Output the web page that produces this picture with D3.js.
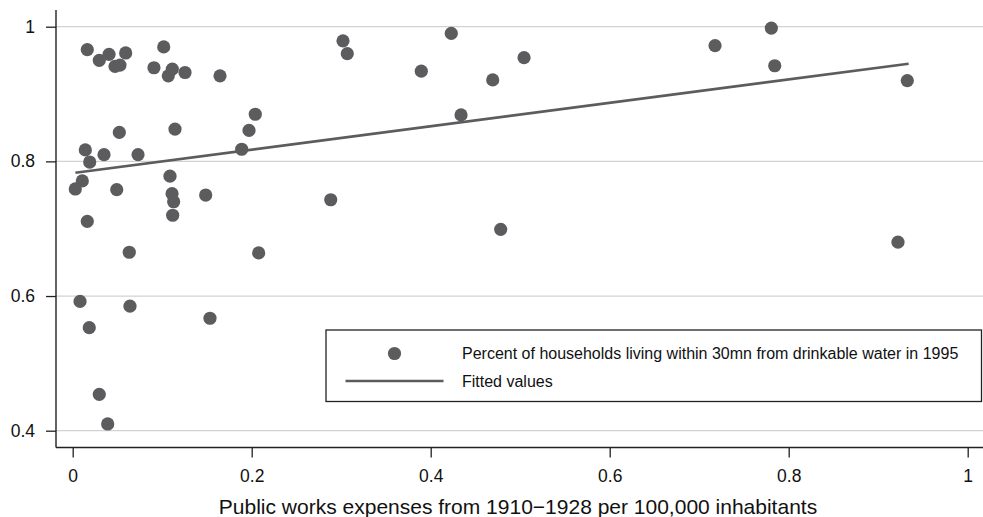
<!DOCTYPE html>
<html>
<head>
<meta charset="utf-8">
<script src="https://cdn.jsdelivr.net/npm/d3@7"></script>
<style>
  html, body { margin: 0; padding: 0; background: #fff; }
  svg { display: block; font-family: "Liberation Sans", Arial, Helvetica, sans-serif; }
</style>
</head>
<body>
<svg id="chart" width="983" height="517"></svg>
<script>
// Public works expenses (x) vs. share of households within 30mn of drinkable water (y)
const xValues = [0.0163,0.0297,0.0406,0.0592,0.0473,0.0528,0.1017,0.0908,0.1113,0.1068,
                 0.1255,0.1646,0.2040,0.1970,0.1888,0.1143,0.0521,0.0141,0.0350,0.0730,
                 0.0190,0.0107,0.0029,0.0492,0.1087,0.1110,0.1128,0.1117,0.1486,0.0163,
                 0.0632,0.2078,0.0082,0.0640,0.0185,0.1534,0.0297,0.0391,0.3020,0.3068,
                 0.4230,0.3895,0.4693,0.5043,0.4339,0.2883,0.4782,0.7177,0.7806,0.7844,
                 0.9325,0.9221];
const yValues = [0.966,0.950,0.959,0.961,0.941,0.943,0.970,0.939,0.937,0.927,
                 0.932,0.927,0.870,0.846,0.818,0.848,0.843,0.817,0.810,0.810,
                 0.799,0.771,0.759,0.758,0.778,0.752,0.740,0.720,0.750,0.711,
                 0.665,0.664,0.592,0.585,0.553,0.567,0.454,0.410,0.979,0.960,
                 0.990,0.934,0.921,0.954,0.869,0.743,0.699,0.972,0.998,0.942,
                 0.920,0.680];
// Fitted values line (endpoints)
const fitX = [0.003, 0.934];
const fitY = [0.783, 0.945];
const xTicks = [0, 0.2, 0.4, 0.6, 0.8, 1];
const yTicks = [0.4, 0.6, 0.8, 1];
const xTitle = "Public works expenses from 1910\u22121928 per 100,000 inhabitants";
const legendLabels = ["Percent of households living within 30mn from drinkable water in 1995", "Fitted values"];

const W = 983, H = 517;
const axisLeft = 56, axisBottom = 447.5, axisTop = 10;
const markColor = "#5c5c5e";
const svg = d3.select("#chart");

const x = d3.scaleLinear().domain([0, 1]).range([72.7, 967.7]);
const y = d3.scaleLinear().domain([0.4, 1]).range([430.7, 26.7]);

const fmt = d => (d === 0 || d === 1) ? String(d) : d3.format(".1f")(d);

// grid lines
svg.append("g").selectAll("line").data(yTicks).join("line")
  .attr("x1", axisLeft).attr("x2", W)
  .attr("y1", d => y(d)).attr("y2", d => y(d))
  .attr("stroke", "#d2d2d2").attr("stroke-width", 1.3);

// y axis
const yAxis = svg.append("g").attr("transform", `translate(${axisLeft},0)`)
  .call(d3.axisLeft(y).tickValues(yTicks).tickFormat(fmt).tickSize(10).tickPadding(11));
yAxis.select(".domain").remove();
yAxis.selectAll(".tick line").attr("stroke", "#222").attr("stroke-width", 1.3);
yAxis.selectAll(".tick text").attr("font-size", "17.5px").attr("fill", "#111")
  .attr("font-family", "Liberation Sans, Arial, sans-serif");
svg.append("line").attr("x1", axisLeft).attr("x2", axisLeft)
  .attr("y1", axisTop).attr("y2", axisBottom).attr("stroke", "#222").attr("stroke-width", 1.4);

// x axis
const xAxis = svg.append("g").attr("transform", `translate(0,${axisBottom})`)
  .call(d3.axisBottom(x).tickValues(xTicks).tickFormat(fmt).tickSize(10).tickPadding(12));
xAxis.select(".domain").remove();
xAxis.selectAll(".tick line").attr("stroke", "#222").attr("stroke-width", 1.3);
xAxis.selectAll(".tick text").attr("font-size", "17.5px").attr("fill", "#111")
  .attr("font-family", "Liberation Sans, Arial, sans-serif");
svg.append("line").attr("x1", axisLeft).attr("x2", W)
  .attr("y1", axisBottom).attr("y2", axisBottom).attr("stroke", "#222").attr("stroke-width", 1.4);

// x title
svg.append("text").attr("x", 518).attr("y", 514).attr("text-anchor", "middle")
  .attr("font-size", "21px").attr("fill", "#111").text(xTitle);

// points
const pts = xValues.map((v, i) => ({x: v, y: yValues[i]}));
svg.append("g").selectAll("circle").data(pts).join("circle")
  .attr("cx", d => x(d.x)).attr("cy", d => y(d.y)).attr("r", 6.6)
  .attr("fill", markColor);

// fitted line
const fit = fitX.map((v, i) => ({x: v, y: fitY[i]}));
svg.append("path").datum(fit)
  .attr("d", d3.line().x(d => x(d.x)).y(d => y(d.y)))
  .attr("fill", "none").attr("stroke", markColor).attr("stroke-width", 2.6);

// legend
const lg = svg.append("g");
lg.append("rect").attr("x", 326).attr("y", 330).attr("width", 655.5).attr("height", 71.5)
  .attr("fill", "#fff").attr("stroke", "#222").attr("stroke-width", 1.3);
lg.append("circle").attr("cx", 394.5).attr("cy", 353.5).attr("r", 6.6).attr("fill", markColor);
lg.append("line").attr("x1", 345.5).attr("x2", 443.5).attr("y1", 381).attr("y2", 381)
  .attr("stroke", markColor).attr("stroke-width", 2.6);
lg.selectAll("text.lbl").data(legendLabels).join("text").attr("class", "lbl")
  .attr("x", 462).attr("y", (d, i) => 359 + i * 27.5)
  .attr("font-size", "16px").attr("fill", "#111").text(d => d);
</script>
</body>
</html>
